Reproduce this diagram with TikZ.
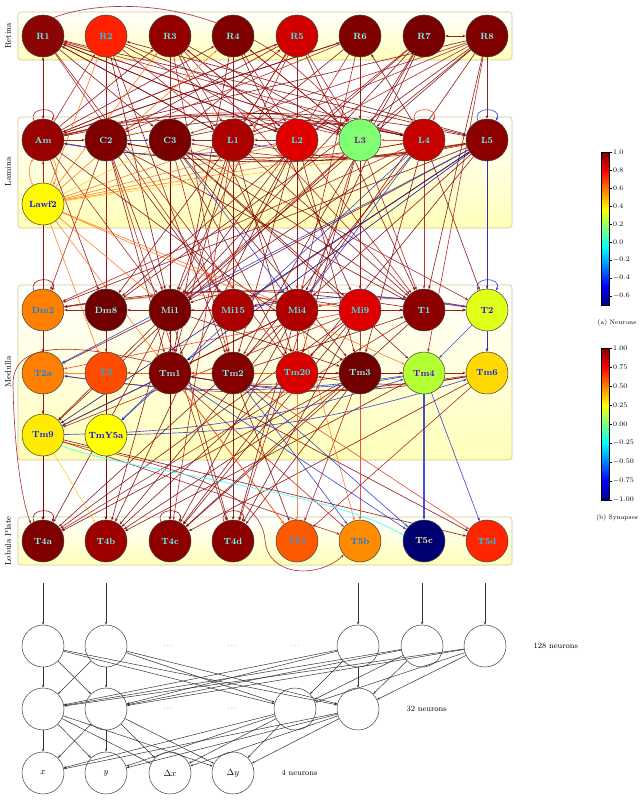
\documentclass[tikz,border=0pt]{standalone}
\usetikzlibrary{arrows.meta,shapes.geometric}
\pgfdeclarelayer{boxes}\pgfdeclarelayer{edges}
\pgfsetlayers{boxes,edges,main}
\definecolor{e1}{rgb}{0.5,0,0}
\definecolor{e2}{rgb}{0.66,0.08,0.08}
\definecolor{e3}{rgb}{0.92,0.2,0.12}
\definecolor{eo}{rgb}{1,0.45,0.1}
\definecolor{ey}{rgb}{1,0.78,0.1}
\definecolor{eb}{rgb}{0.15,0.2,0.8}
\definecolor{ed}{rgb}{0,0,0.55}
\definecolor{ec}{rgb}{0.3,1,1}
\definecolor{boxline}{RGB}{205,200,150}
\definecolor{boxbot}{RGB}{255,255,185}
\definecolor{jdb}{rgb}{0,0,0.5}
\definecolor{jb}{rgb}{0,0,1}
\definecolor{jc}{rgb}{0,1,1}
\definecolor{jy}{rgb}{1,1,0}
\definecolor{jr}{rgb}{1,0,0}
\definecolor{jdr}{rgb}{0.5,0,0}
\pgfdeclareverticalshading{jet}{100bp}{color(0bp)=(jdb); color(25bp)=(jdb); color(31.25bp)=(jb); color(43.75bp)=(jc); color(56.25bp)=(jy); color(68.75bp)=(jr); color(75bp)=(jdr); color(100bp)=(jdr)}
\newcommand\mkneuron[5]{\definecolor{f#1}{rgb}{#4}\colorlet{t#1}{-f#1}\node[neuron,fill=f#1,text=t#1] (#1) at (#2,#3) {#5};}
\begin{document}
\begin{tikzpicture}[x=1pt,y=-1pt,
  neuron/.style={circle,draw=black!75,line width=0.5pt,minimum size=42pt,inner sep=0pt,font=\fontsize{9}{10}\selectfont\bfseries},
  plainnode/.style={circle,draw=black!75,line width=0.5pt,minimum size=42pt,inner sep=0pt,font=\small},
  syn/.style={-{Stealth[length=3.4pt,width=2.5pt]},line width=0.65pt,draw opacity=0.85},
  syntwo/.style={{Stealth[length=3.4pt,width=2.5pt]}-{Stealth[length=3.4pt,width=2.5pt]},line width=0.65pt,draw opacity=0.85},
  nn/.style={-{Stealth[length=3pt,width=2.2pt]},line width=0.5pt,draw=black!80},
  regionbox/.style={rounded corners=3pt,draw=boxline,line width=0.6pt,top color=white,bottom color=boxbot},
  sidelabel/.style={rotate=90,font=\fontsize{8.5}{9}\selectfont},
  ticklab/.style={font=\fontsize{7}{8}\selectfont,anchor=west,inner sep=1pt},
  captext/.style={font=\fontsize{6.5}{8}\selectfont}]
\useasboundingbox (0,0) rectangle (640,811);
% region boxes
\begin{pgfonlayer}{boxes}
\draw[regionbox] (18,12) rectangle (512,60);
\draw[regionbox] (18,117) rectangle (512,228);
\draw[regionbox] (18,285) rectangle (512,460);
\draw[regionbox] (18,517) rectangle (512,565);
\end{pgfonlayer}
\node[sidelabel] (labRet) at (8,36) {Retina};
\node[sidelabel] (labLam) at (8,172) {Lamina};
\node[sidelabel] (labMed) at (8,372) {Medulla};
\node[sidelabel] (labLob) at (8,541) {Lobula Plate};
% neurons
\mkneuron{R1}{43}{36}{0.55,0.02,0.02}{R1}
\mkneuron{R2}{106}{36}{1,0.13,0}{R2}
\mkneuron{R3}{170}{36}{0.58,0,0}{R3}
\mkneuron{R4}{233}{36}{0.5,0,0}{R4}
\mkneuron{R5}{297}{36}{0.82,0,0}{R5}
\mkneuron{R6}{360}{36}{0.5,0,0}{R6}
\mkneuron{R7}{424}{36}{0.47,0,0}{R7}
\mkneuron{R8}{487}{36}{0.5,0,0}{R8}
\mkneuron{Am}{43}{140}{0.6,0,0}{Am}
\mkneuron{C2}{106}{140}{0.5,0,0}{C2}
\mkneuron{C3}{170}{140}{0.48,0,0}{C3}
\mkneuron{L1}{233}{140}{0.68,0,0}{L1}
\mkneuron{L2}{297}{140}{0.88,0,0}{L2}
\mkneuron{L3}{360}{140}{0.5,1,0.45}{L3}
\mkneuron{L4}{424}{140}{0.78,0,0}{L4}
\mkneuron{L5}{487}{140}{0.55,0,0}{L5}
\mkneuron{Lawf2}{43}{204}{1,0.98,0}{Lawf2}
\mkneuron{Dm2}{43}{310}{1,0.5,0}{Dm2}
\mkneuron{Dm8}{106}{310}{0.45,0,0}{Dm8}
\mkneuron{Mi1}{170}{310}{0.48,0,0}{Mi1}
\mkneuron{Mi15}{233}{310}{0.68,0,0}{Mi15}
\mkneuron{Mi4}{297}{310}{0.7,0,0}{Mi4}
\mkneuron{Mi9}{360}{310}{0.87,0,0}{Mi9}
\mkneuron{T1}{424}{310}{0.55,0,0}{T1}
\mkneuron{T2}{487}{310}{0.88,1,0.1}{T2}
\mkneuron{T2a}{43}{373}{1,0.5,0}{T2a}
\mkneuron{T3}{106}{373}{1,0.3,0}{T3}
\mkneuron{Tm1}{170}{373}{0.5,0,0}{Tm1}
\mkneuron{Tm2}{233}{373}{0.52,0,0}{Tm2}
\mkneuron{Tm20}{297}{373}{0.85,0,0}{Tm20}
\mkneuron{Tm3}{360}{373}{0.45,0,0}{Tm3}
\mkneuron{Tm4}{424}{373}{0.7,1,0.2}{Tm4}
\mkneuron{Tm6}{487}{373}{1,0.85,0}{Tm6}
\mkneuron{Tm9}{43}{435}{1,0.92,0}{Tm9}
\mkneuron{TmY5a}{106}{435}{1,1,0}{TmY5a}
\mkneuron{T4a}{43}{541}{0.5,0,0}{T4a}
\mkneuron{T4b}{106}{541}{0.62,0,0}{T4b}
\mkneuron{T4c}{170}{541}{0.55,0,0}{T4c}
\mkneuron{T4d}{233}{541}{0.55,0,0}{T4d}
\mkneuron{T5a}{297}{541}{1,0.35,0}{T5a}
\mkneuron{T5b}{360}{541}{1,0.55,0}{T5b}
\mkneuron{T5c}{424}{541}{0,0,0.45}{T5c}
\mkneuron{T5d}{487}{541}{1,0.15,0}{T5d}
% synapses
\begin{pgfonlayer}{edges}
\foreach \a/\b/\c in {
R1/L1/e1,R1/L2/e1,R1/L3/e1,R1/C3/e1,R2/L2/e1,R2/L3/e1,R2/Mi1/e1,R3/C3/e1,R3/L2/e1,R3/L3/e1,
R4/L1/e1,R4/L3/e1,R4/Tm1/e1,R5/L2/e1,R5/Am/e1,R5/C2/e1,R6/L3/e1,R6/L1/e1,R6/Am/e1,R7/L3/e1,
R7/Mi1/e1,R7/Mi4/e1,R7/Dm8/e1,R8/L5/e1,R8/Mi1/e1,R8/Mi4/e1,R8/Dm8/e1,R8/L3/e1,R8/Am/e1,R8/T1/e1,
Am/R3/e1,Am/R4/e1,Am/R6/e1,L1/R1/e1,L2/R1/e1,L4/R6/e1,L5/R2/e1,L5/R1/e1,C3/R5/e1,
Am/C2/e1,L1/C3/e1,L2/L1/e1,
L1/Mi1/e1,L1/Dm8/e1,L1/T1/e1,L1/Tm1/e1,L2/Tm1/e1,L2/Tm2/e1,L2/Mi1/e1,L2/Mi4/e1,L3/Mi9/e1,L3/Tm9/e1,
L3/Tm20/e1,L4/Tm2/e1,L4/T2/e1,L4/Tm3/e1,L5/Mi1/e1,L5/Mi4/e1,L5/T2/e1,L5/Dm2/e1,
C2/Tm1/e1,C2/Mi1/e1,C2/T1/e1,C3/Mi1/e1,C3/Tm1/e1,C3/Tm20/e1,C3/T1/e1,C3/Tm4/e1,C3/Mi9/e1,
Am/T2a/e1,Am/Dm8/e1,Am/Tm3/e1,
Dm8/Dm2/e1,Mi1/Dm8/e1,Mi15/Mi4/e1,Tm1/T3/e1,Tm2/Tm1/e1,Mi9/T1/e1,Tm20/Tm3/e1,Mi1/T2a/e1,Mi1/Tm9/e1,
Mi4/Tm9/e1,T2/Tm6/e1,Tm2/Tm6/e1,Mi1/T1/e1,Mi4/T2/e1,Tm1/Tm4/e1,Tm20/Tm4/e1,Tm2/T1/e1,T2a/Tm9/e1,
Mi1/Tm3/e1,Mi4/Tm1/e1,
Mi1/T4a/e1,Mi1/T4b/e1,Mi1/T4c/e1,Mi1/T4d/e1,Tm3/T4a/e1,Tm3/T4b/e1,Tm3/T4c/e1,Tm3/T4d/e1,
Mi4/T4a/e1,Mi4/T4b/e1,Mi4/T4c/e1,Mi4/T4d/e1,Mi9/T4a/e1,Mi9/T4b/e1,Mi9/T4c/e1,Mi9/T4d/e1,
Tm1/T5d/e1,Tm2/T5a/e1,Tm9/T5d/e1,Dm2/T4a/e1,T2a/T4a/e1,T3/T4b/e1,Tm20/T4c/e1,T1/T4c/e1,
Tm4/T4b/e1,Tm6/T4c/e1,C3/T4c/e1,C2/T4b/e1,L1/T4d/e1,Am/T4a/e1,
R2/L1/e2,R3/L1/e2,R4/L2/e2,R5/L1/e2,R5/L3/e2,R6/L2/e2,R6/C2/e2,R7/L2/e2,R8/L2/e2,R8/L1/e2,
R8/C3/e2,Am/R2/e2,Am/R5/e2,L1/R5/e2,L2/R3/e2,L3/R4/e2,L3/R1/e2,L4/R1/e2,
L1/Mi15/e2,L2/T1/e2,L2/Tm20/e2,L3/Mi1/e2,L4/T1/e2,L4/Dm2/e2,L5/Mi15/e2,C2/Dm2/e2,C3/Tm2/e2,
C3/T2/e2,Am/Tm9/e2,Mi1/Mi15/e2,Tm1/Mi1/e2,Mi9/Tm9/e2,T1/T2/e2,Mi9/T2/e2,Mi1/T2/e2,Tm2/Tm4/e2,
Mi9/Mi1/e2,Tm1/T5b/e2,Tm9/T5b/e2,Tm3/T5a/e2,R5/Mi1/e2,R3/Tm2/e2,R6/Mi4/e2,R1/Tm20/e2,R3/T1/e2,
R2/Dm8/e2,T1/T4a/e2,Tm6/T5a/e2,
R1/Mi15/e2,R2/Tm2/e1,R4/Mi9/e1,R5/T1/e1,R6/Tm3/e2,R7/Tm2/e1,R8/Tm4/e2,R3/Mi4/e1,R2/T3/e2,
L1/Tm20/e1,L2/Tm3/e1,L3/T1/e2,L4/Mi1/e1,L5/Tm20/e1,C2/Mi15/e1,Am/Mi1/e2,C3/Tm3/e1,L1/T4c/e2,
L2/T4b/e1,L3/T4d/e2,C2/T4d/e2,
L4/L3/e3,Tm1/T5a/e3,Mi9/T2a/e3,Tm2/T5d/e3,Tm3/T5b/e3,
Lawf2/R1/eo,Lawf2/R2/eo,Lawf2/R3/eo,Lawf2/R4/eo,Lawf2/L1/eo,Lawf2/L2/eo,Lawf2/L3/eo,Lawf2/L4/eo,
Lawf2/Mi1/eo,Lawf2/Tm4/eo,Lawf2/T5a/eo,Lawf2/Mi4/eo,Lawf2/T3/eo,Tm20/T2a/eo,Tm20/T5a/eo,Mi4/T5b/eo,
Lawf2/Am/e2,
Tm9/T4b/ey,Lawf2/C3/ey,Lawf2/L5/ey,
C2/C3/eb,L5/Tm6/eb,L5/T2a/eb,C3/Mi4/eb,L4/TmY5a/eb,Tm1/Tm9/eb,Tm1/TmY5a/eb,T2/Tm4/eb,Tm1/T5c/eb,
Tm2/T5b/eb,Tm2/T5c/eb,Tm4/T5d/eb,L4/Mi4/eb,
L5/Tm9/ed,L5/Tm1/ed}
  \draw[syn,draw=\c] (\a) -- (\b);
\draw[syn,draw=eb,line width=1.1pt] (Tm4) -- (T5c);
\foreach \a/\b/\c/\k in {
Am/L3/e2/14,Am/L4/e2/13,C2/L4/e1/12,C3/L4/e1/12,L1/L4/e2/15,Am/L5/e1/11,
L5/Am/e1/9,L5/C2/e1/10,L5/C3/e2/10,L4/C2/e1/10,L5/L1/e2/12,L2/Am/eb/10,
Lawf2/Am/eo/28,Am/Lawf2/eo/28,
Tm6/Tm1/e1/10,Tm6/T2a/e2/8,Tm4/T2a/eb/8,Tm4/Tm1/eb/10,Tm9/Tm4/eb/-8,TmY5a/Tm6/eb/-8,
Tm3/Tm1/e2/10,Mi9/Mi15/e1/-12,T2/Mi4/e2/-10,Tm6/Tm20/e1/10,
Mi9/Dm2/eo/-8,T2/Dm2/e2/-8,T1/Dm2/e1/-9,Mi15/T2/eb/9,Mi4/Mi1/e1/-20}
  \draw[syn,draw=\c] (\a) to[bend left=\k] (\b);
\foreach \a/\c in {Am/e2,L4/e3,L5/eb,Dm2/e1,T2/eb,T4a/e1,T4c/e1,T4d/e1}
  \draw[syn,draw=\c] (\a.115) .. controls +(115:16pt) and +(65:16pt) .. (\a.65);
\draw[syntwo,draw=e1] (R1) -- (Am);
\draw[syntwo,draw=e1] (R7) -- (R8);
\draw[syn,draw=e2] (R1.60) .. controls (110,-4) and (250,-6) .. (L3.125);
\draw[syn,draw=e2] (Tm1.150) .. controls (80,345) and (12,338) .. (13,385) .. controls (14,440) and (20,495) .. (T4a.125);
\draw[syn,draw=e2] (Tm9.-20) .. controls (200,470) and (262,500) .. (265,540) .. controls (268,578) and (320,578) .. (T5b.220);
\draw[syn,draw=ec,line width=0.9pt] (Tm9.-30) .. controls (120,470) and (330,490) .. (T5c.165);
\end{pgfonlayer}
% colour bars
\shade[shading=jet,draw=black,line width=0.4pt] (601,152) rectangle (609,305);
\foreach \yy/\t [count=\i] in {152/1.0,170/0.8,188/0.6,206/0.4,224/0.2,242/0.0,260/$-0.2$,278/$-0.4$,296/$-0.6$}{
  \draw[line width=0.4pt] (609,\yy) -- (611.5,\yy);
  \node[ticklab] (na\i) at (612,\yy) {\t};}
\node[captext] (capA) at (617,323) {(a) Neurons};
\shade[shading=jet,draw=black,line width=0.4pt] (601,348) rectangle (609,500);
\foreach \yy/\t [count=\i] in {348/1.00,367/0.75,386/0.50,405/0.25,424/0.00,443/$-0.25$,462/$-0.50$,481/$-0.75$,500/$-1.00$}{
  \draw[line width=0.4pt] (609,\yy) -- (611.5,\yy);
  \node[ticklab] (nb\i) at (612,\yy) {\t};}
\node[captext] (capB) at (617,518) {(b) Synapses};
% feed-forward network
\node[plainnode] (B1) at (43,646) {};
\node[plainnode] (B2) at (106,646) {};
\node[plainnode] (B3) at (358,646) {};
\node[plainnode] (B4) at (422,646) {};
\node[plainnode] (B5) at (485,646) {};
\node[plainnode] (H1) at (43,709) {};
\node[plainnode] (H2) at (106,709) {};
\node[plainnode] (H3) at (295,709) {};
\node[plainnode] (H4) at (358,709) {};
\node[plainnode] (O1) at (43,773) {$x$};
\node[plainnode] (O2) at (106,773) {$y$};
\node[plainnode] (O3) at (170,773) {$\Delta x$};
\node[plainnode] (O4) at (233,773) {$\Delta y$};
\foreach \n/\xx in {B1/43,B2/106,B3/358,B4/422,B5/485}{
  \coordinate (in\n) at (\xx,583);
  \draw[nn] (in\n) -- (\n);}
\foreach \i in {B1,B2,B3,B4,B5}
  \foreach \j in {H1,H2,H3,H4}
    \draw[nn] (\i) -- (\j);
\foreach \i in {H1,H2,H3,H4}
  \foreach \j in {O1,O2,O3,O4}
    \draw[nn] (\i) -- (\j);
\foreach \xx/\yy [count=\i] in {168/646,232/646,295/646,168/709,232/709}
  \node[font=\scriptsize,text=black!70] (dots\i) at (\xx,\yy) {$\cdots$};
\node[anchor=west,font=\fontsize{8}{9}\selectfont] (n128) at (530,646) {128 neurons};
\node[anchor=west,font=\fontsize{8}{9}\selectfont] (n32) at (403,709) {32 neurons};
\node[anchor=west,font=\fontsize{8}{9}\selectfont] (n4) at (278,773) {4 neurons};
\end{tikzpicture}
\end{document}
